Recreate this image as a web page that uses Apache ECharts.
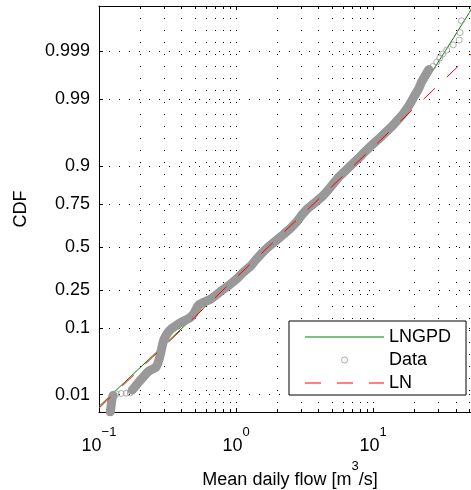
<!DOCTYPE html>
<html><head><meta charset="utf-8">
<script src="https://cdn.jsdelivr.net/npm/echarts@6/dist/echarts.min.js"></script>
<style>html,body{margin:0;padding:0;background:#fff}#c{width:471px;height:490px}</style>
</head><body><div id="c"></div>
<script>
// ---------- data ----------
const cdfTickLabels = ['0.01','0.1','0.25','0.5','0.75','0.9','0.99','0.999'];
const flowMajorTicks = [0.1, 1, 10];
const flowGridValues = [0.2,0.3,0.4,0.5,0.6,0.7,0.8,0.9,1,2,3,4,5,6,7,8,9,10,20,30,40,50,60];

// empirical data (mean daily flow [m3/s], CDF)
const dataLowFlow = [0.1207,0.1217,0.1228,0.1238,0.1249,0.1270];
const dataLowCdf  = [0.0047,0.0054,0.0064,0.0076,0.0087,0.0097];
const dataRunFlow = [0.1335,0.1452,0.1580,0.1690];
const dataRunCdf  = [0.0104,0.0105,0.0106,0.0107];
const dataMainFlow = [0.1747,0.1853,0.1982,0.2120,0.2248,0.2345,0.2466,0.2594,0.2682,0.2764,0.2830,0.2893,0.2967,0.3042,0.3136,0.3254,0.3394,0.3569,0.3754,0.3948,0.4152,0.4366,0.4592,0.4790,0.4953,0.5080,0.5210,0.5388,0.5667,0.6009,0.6374,0.6704,
  0.7714,0.8921,1.0148,1.1254,1.2801,1.3964,1.5361,1.7179,1.9539,2.2233,2.5066,2.7810,3.0083,3.3079,3.7626,4.2794,4.7075,5.1344,5.6006,6.2632,7.0064,7.8362,8.6936,9.7230,10.965,12.265,13.720,15.089,16.596,17.947,19.090,20.297,21.593,22.579,24.010,25.534];
const dataMainCdf = [0.0121,0.0143,0.0174,0.0207,0.0240,0.0259,0.0273,0.0289,0.0327,0.0402,0.0491,0.0595,0.0716,0.0783,0.0854,0.0930,0.0998,0.1053,0.1112,0.1174,0.1221,0.1269,0.1319,0.1405,0.1494,0.1607,0.1726,0.1828,0.1891,0.1956,0.2022,0.2112,
  0.2420,0.2743,0.3085,0.3446,0.3821,0.4207,0.4602,0.5000,0.5398,0.5793,0.6179,0.6554,0.6915,0.7257,0.7580,0.7881,0.8159,0.8413,0.8643,0.8849,0.9032,0.9192,0.9332,0.9452,0.9554,0.9641,0.9713,0.9772,0.9821,0.9861,0.98928,0.99180,0.99379,0.99534,0.99653,0.99744];
const dataTopFlow = [27.3,29.2,30.7,32.3,34.5,38.5,42.6,43.2,44.2];
const dataTopCdf  = [0.99779,0.99824,0.99856,0.99883,0.99905,0.99928,0.99945,0.99964,0.99982];

// fitted distributions
const lngpdFlow = [0.1,0.3,1,3,10,14,16.84,19.89,22.79,25.89,29.57,33.88,38.83,44.33,50.46,53.87];
const lngpdCdf  = [0.0060,0.0618,0.3145,0.6906,0.9421,0.9695,0.98214,0.98928,0.99379,0.99653,0.99813,0.99903,0.99952,0.99977,0.99989,0.99993];
const lnFlow = [0.1,0.3,1,3,10,30,60];
const lnCdf  = [0.00557,0.0596,0.3145,0.6906,0.9421,0.99467,0.99924];

// ---------- probability-axis transform (inverse normal CDF) ----------
function norminv(p){
  const a=[-3.969683028665376e+01,2.209460984245205e+02,-2.759285104469687e+02,1.383577518672690e+02,-3.066479806614716e+01,2.506628277459239e+00];
  const b=[-5.447609879822406e+01,1.615858368580409e+02,-1.556989798598866e+02,6.680131188771972e+01,-1.328068155288572e+01];
  const c=[-7.784894002430293e-03,-3.223964580411365e-01,-2.400758276141814e+00,-2.549732539343734e+00,4.374664141464968e+00,2.938163982698783e+00];
  const d=[7.784695709041462e-03,3.224671290700398e-01,2.445134137142996e+00,3.754408661907416e+00];
  const pl=0.02425, ph=1-pl; let q,r;
  if(p<pl){q=Math.sqrt(-2*Math.log(p));return (((((c[0]*q+c[1])*q+c[2])*q+c[3])*q+c[4])*q+c[5])/((((d[0]*q+d[1])*q+d[2])*q+d[3])*q+1);}
  if(p<=ph){q=p-0.5;r=q*q;return (((((a[0]*r+a[1])*r+a[2])*r+a[3])*r+a[4])*r+a[5])*q/(((((b[0]*r+b[1])*r+b[2])*r+b[3])*r+b[4])*r+1);}
  q=Math.sqrt(-2*Math.log(1-p));return -(((((c[0]*q+c[1])*q+c[2])*q+c[3])*q+c[4])*q+c[5])/((((d[0]*q+d[1])*q+d[2])*q+d[3])*q+1);
}
const pairs = (fs, ps) => fs.map((f, i) => [f, norminv(ps[i])]);
const cdfTickValues = cdfTickLabels.map(s => norminv(parseFloat(s)));

const FONT = '"Liberation Sans", Arial, Helvetica, sans-serif';
const X_MIN = 0.1, X_MAX = 61.4, Y_MIN = -2.6, Y_MAX = 3.8;

const supRich = {
  b: {fontSize: 18, fontFamily: FONT, color: '#000', lineHeight: 40, verticalAlign: 'middle'},
  e: {fontSize: 13, fontFamily: FONT, color: '#000', lineHeight: 14, verticalAlign: 'top'}
};
function flowLabel(v) {
  const lg = Math.log10(v), e = Math.round(lg);
  if (Math.abs(lg - e) > 1e-6) return '';
  return '{b|10}{e|' + (e < 0 ? '\u2212' + (-e) : String(e)) + '}';
}

const chart = echarts.init(document.getElementById('c'), null, {renderer: 'canvas'});
const option = {
  animation: false,
  backgroundColor: '#fff',
  textStyle: {fontFamily: FONT},
  grid: {left: 99, top: 6, right: -10, bottom: 78, containLabel: false, outerBoundsMode: 'none'},
  legend: {
    data: [
      {name: 'LNGPD', icon: 'path://M0 0H79V1H0Z', itemStyle: {borderWidth: 0}},
      {name: 'Data', icon: 'circle', itemStyle: {color: 'rgba(0,0,0,0)', borderColor: '#999', borderWidth: 1}},
      {name: 'LN', icon: 'path://M0 0H16V1H0Z M32 0H48V1H32Z M64 0H79V1H64Z', itemStyle: {borderWidth: 0}}
    ],
    orient: 'vertical', left: 289, top: 321,
    itemWidth: 79, itemHeight: 6, itemGap: 5,
    padding: [7, 15, 3, 16],
    backgroundColor: '#fff', borderColor: '#000', borderWidth: 1, borderRadius: 0,
    textStyle: {fontSize: 18, color: '#000', fontFamily: FONT},
    selectedMode: false
  },
  xAxis: [{
    type: 'log', logBase: 10, min: X_MIN, max: X_MAX, position: 'bottom',
    name: '{a|Mean daily flow [m}{s|3}{a|/s]}', nameLocation: 'middle', nameGap: 31,
    nameTextStyle: {rich: {
      a: {fontSize: 18, fontFamily: FONT, color: '#000', lineHeight: 40, verticalAlign: 'middle'},
      s: {fontSize: 13, fontFamily: FONT, color: '#000', lineHeight: 14, verticalAlign: 'top'}
    }},
    axisLine: {show: true, onZero: false, lineStyle: {color: '#000', width: 1}},
    axisTick: {show: true, inside: true, length: 4, lineStyle: {color: '#000', width: 1}},
    axisLabel: {margin: 14, formatter: flowLabel, rich: supRich, showMinLabel: true, showMaxLabel: false},
    splitLine: {show: false}
  }, {
    type: 'log', logBase: 10, min: X_MIN, max: X_MAX, position: 'top',
    axisLine: {show: true, onZero: false, lineStyle: {color: '#000', width: 1}},
    axisTick: {show: true, inside: true, length: 4, lineStyle: {color: '#000', width: 1}},
    axisLabel: {show: false}, splitLine: {show: false}
  }],
  yAxis: {
    type: 'value', min: Y_MIN, max: Y_MAX,
    name: 'CDF', nameLocation: 'middle', nameGap: 69, nameRotate: 90,
    nameTextStyle: {fontSize: 18, color: '#000', fontFamily: FONT},
    axisLine: {show: true, onZero: false, lineStyle: {color: '#000', width: 1}},
    axisTick: {show: true, inside: true, length: 4, customValues: cdfTickValues, lineStyle: {color: '#000'}},
    axisLabel: {
      customValues: cdfTickValues, fontSize: 18, color: '#000', margin: 9, fontFamily: FONT,
      formatter: v => { for (let i = 0; i < cdfTickValues.length; i++) if (Math.abs(v - cdfTickValues[i]) < 1e-6) return cdfTickLabels[i]; return ''; }
    },
    splitLine: {show: true, lineStyle: {color: '#000', type: [1, 9], width: 1}}
  },
  series: [
    {
      type: 'custom', name: 'xgrid', silent: true, z: 1,
      data: flowGridValues.map(v => [v, 0]), encode: {x: 0, y: 1},
      renderItem: function (params, api) {
        const v = api.value(0);
        const cs = params.coordSys;
        const x = Math.round(api.coord([v, 0])[0]) + 0.5;
        const top = cs.y, bottom = cs.y + cs.height;
        const children = [{type: 'line', shape: {x1: x, y1: top, x2: x, y2: bottom},
          style: {stroke: '#000', lineWidth: 1, lineDash: [1, 11]}}];
        if (flowMajorTicks.indexOf(v) < 0) {
          children.push({type: 'line', shape: {x1: x, y1: bottom, x2: x, y2: bottom - 3}, style: {stroke: '#000', lineWidth: 1}});
          children.push({type: 'line', shape: {x1: x, y1: top, x2: x, y2: top + 3}, style: {stroke: '#000', lineWidth: 1}});
        }
        return {type: 'group', children: children};
      }
    },
    {
      type: 'line', name: 'LNGPD', z: 2, symbol: 'none', color: '#008000',
      data: pairs(lngpdFlow, lngpdCdf),
      lineStyle: {color: '#008000', width: 1}
    },
    {
      type: 'line', name: 'band1', z: 3, symbol: 'none', silent: true, color: '#999',
      data: pairs(dataLowFlow, dataLowCdf),
      lineStyle: {color: '#999', width: 9, cap: 'round', join: 'round'}
    },
    {
      type: 'line', name: 'band2', z: 3, symbol: 'none', silent: true, color: '#999',
      data: pairs(dataMainFlow, dataMainCdf),
      lineStyle: {color: '#999', width: 9, cap: 'round', join: 'round'}
    },
    {
      type: 'scatter', name: 'Data', z: 4, symbol: 'circle', symbolSize: 6,
      data: pairs(dataLowFlow.concat(dataRunFlow, dataMainFlow, dataTopFlow), dataLowCdf.concat(dataRunCdf, dataMainCdf, dataTopCdf)),
      itemStyle: {color: 'rgba(0,0,0,0)', borderColor: '#999', borderWidth: 1}
    },
    {
      type: 'line', name: 'LN', z: 5, symbol: 'none', color: '#ff0000',
      data: pairs(lnFlow, lnCdf),
      lineStyle: {color: '#ff0000', width: 1, type: [16, 16]}
    }
  ]
};
chart.setOption(option);
</script>
</body></html>
